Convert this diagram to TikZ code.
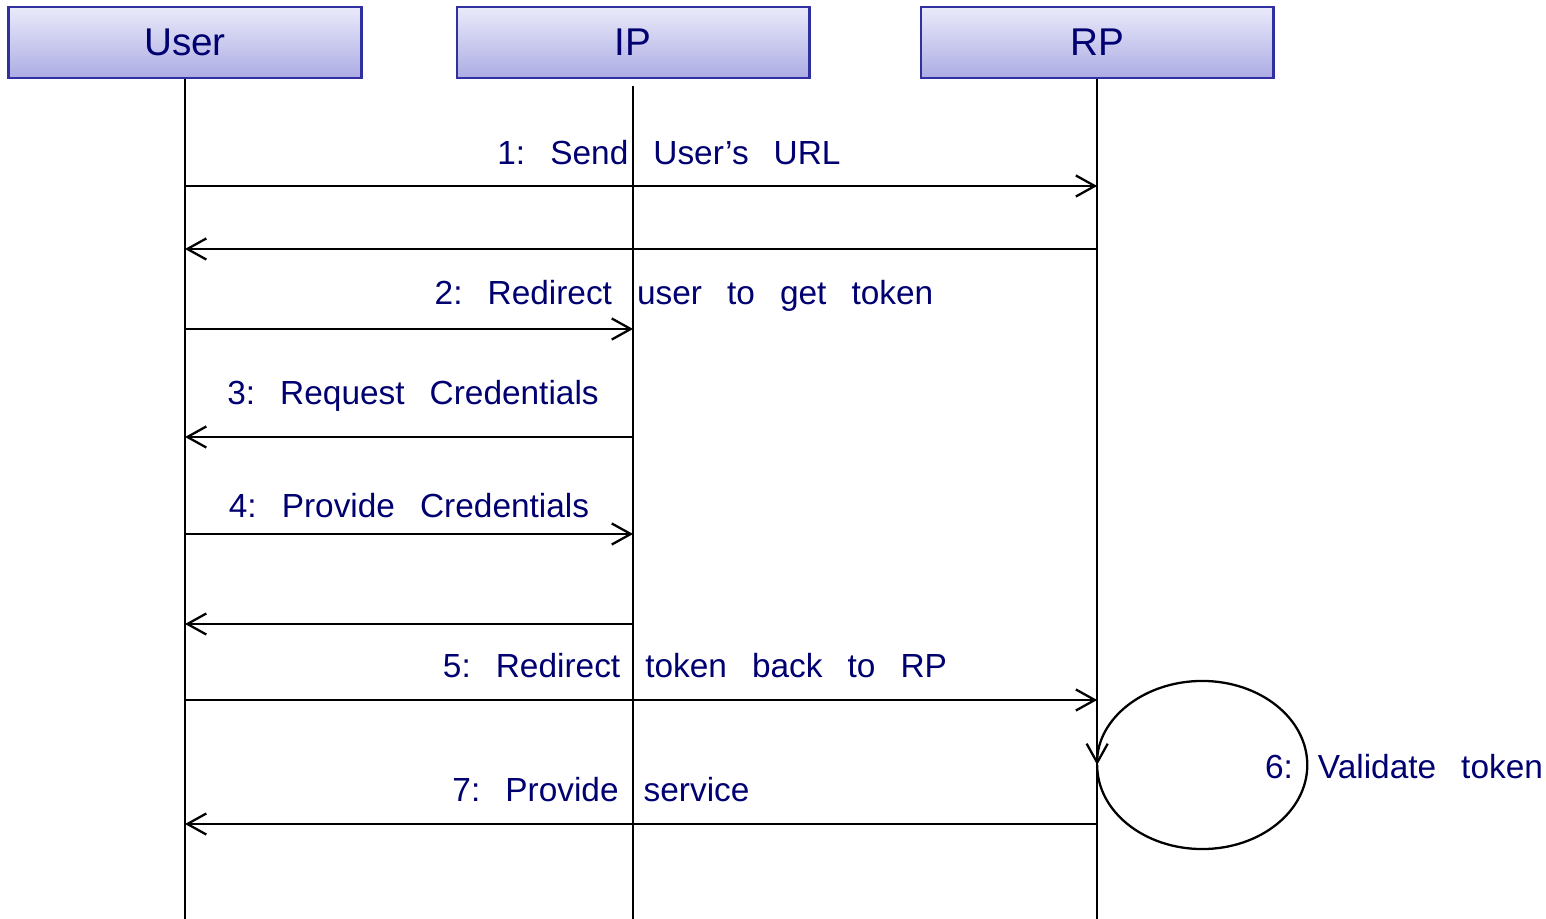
\documentclass[tikz,border=0pt]{standalone}
\usepackage{fontspec}
\setmainfont{Liberation Sans}
\usetikzlibrary{arrows.meta,positioning}
\definecolor{navy}{RGB}{0,0,112}
\definecolor{boxline}{RGB}{48,48,160}
\definecolor{boxtop}{RGB}{234,234,250}
\definecolor{boxbot}{RGB}{172,172,228}
\newcommand{\wgap}{\hspace{0.75em}}
\tikzset{
  actor/.style={draw=boxline, line width=0.8pt, top color=boxtop, bottom color=boxbot,
    minimum width=3.52cm, minimum height=0.71cm, text=navy, font=\fontsize{11}{13}\selectfont},
  life/.style={line width=0.5pt},
  msg/.style={line width=0.65pt, -{Straight Barb[length=5.4pt,width=6pt]}},
  lbl/.style={text=navy, font=\fontsize{9.5}{11}\selectfont},
}
\begin{document}
\begin{tikzpicture}[x=0.01cm,y=-0.01cm]
\useasboundingbox (0,0) rectangle (1546,919);
% actors
\node[actor] (user) at (185,42.5) {User};
\node[actor,right=0.93cm of user] (ip) {IP};
\node[actor,right=1.09cm of ip] (rp) {RP};
% lifelines
\coordinate (userend) at (user |- 0,919);
\coordinate (ipend) at (ip |- 0,919);
\coordinate (rpend) at (rp |- 0,919);
\draw[life] (user.south) -- (userend);
\draw[life] ([yshift=-0.07cm]ip.south) -- (ipend);
\draw[life] (rp.south) -- (rpend);
% message points
\coordinate (u1) at (user |- 0,186); \coordinate (r1) at (rp |- 0,186);
\coordinate (u1b) at (user |- 0,249); \coordinate (r1b) at (rp |- 0,249);
\coordinate (u2) at (user |- 0,329); \coordinate (i2) at (ip |- 0,329);
\coordinate (u3) at (user |- 0,437); \coordinate (i3) at (ip |- 0,437);
\coordinate (u4) at (user |- 0,534); \coordinate (i4) at (ip |- 0,534);
\coordinate (u4b) at (user |- 0,624); \coordinate (i4b) at (ip |- 0,624);
\coordinate (u5) at (user |- 0,700); \coordinate (r5) at (rp |- 0,700);
\coordinate (r6) at (rp |- 0,765);
\coordinate (u7) at (user |- 0,824); \coordinate (r7) at (rp |- 0,824);
% messages
\draw[msg] (u1) -- (r1);
\draw[msg] (r1b) -- (u1b);
\draw[msg] (u2) -- (i2);
\draw[msg] (i3) -- (u3);
\draw[msg] (u4) -- (i4);
\draw[msg] (i4b) -- (u4b);
\draw[msg] (u5) -- (r5);
\draw[msg] (r6) arc[start angle=180, end angle=540, x radius=1.05cm, y radius=0.84cm];
\draw[msg] (r7) -- (u7);
% labels
\node[lbl] (m1) at (669,153) {1:\wgap Send\wgap User’s\wgap URL};
\node[lbl] (m2) at (684,296) {2:\wgap Redirect\wgap user\wgap to\wgap get\wgap token};
\node[lbl] (m3) at (413,396) {3:\wgap Request\wgap Credentials};
\node[lbl] (m4) at (409,506) {4:\wgap Provide\wgap Credentials};
\node[lbl] (m5) at (695,666) {5:\wgap Redirect\wgap token\wgap back\wgap to\wgap RP};
\node[lbl] (m6) at (1404,767) {6:\wgap Validate\wgap token};
\node[lbl] (m7) at (601,790) {7:\wgap Provide\wgap service};
\end{tikzpicture}
\end{document}
